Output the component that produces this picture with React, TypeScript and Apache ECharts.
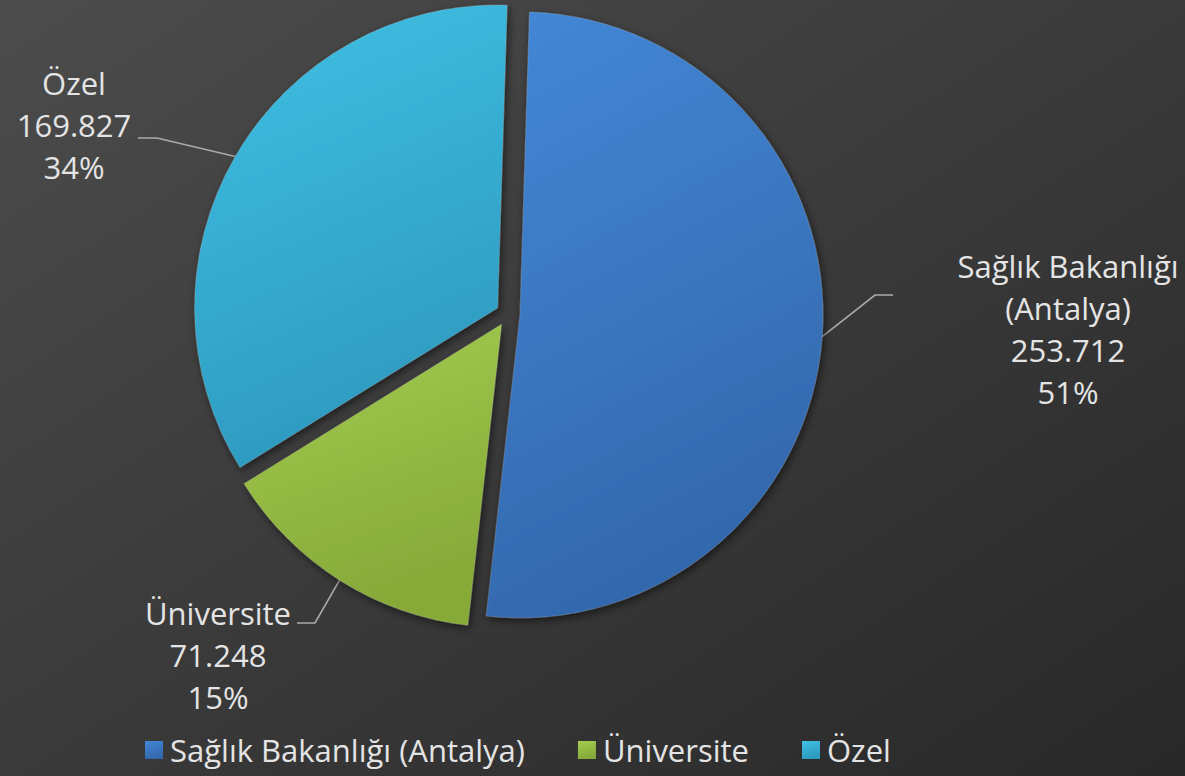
import React, { useEffect, useRef } from 'react';
import * as echarts from 'echarts';

// ---- data ----
const categories = ['Sağlık Bakanlığı (Antalya)', 'Üniversite', 'Özel'];
const values = [253712, 71248, 169827];
const percentLabels = ['51%', '15%', '34%'];

// ---- style / layout ----
const sliceColors = [
  ['#4388d7', '#3368ad'],
  ['#a4cd50', '#86a938'],
  ['#40c1e5', '#2e9ac0'],
];
const PIE_CX = 508;
const PIE_CY = 314;
const RADIUS = 303;
const EXPLODE = 12;
const START_DEG = 1.8; // clockwise from 12 o'clock
const TEXT_COLOR = '#e4e4e4';
const FONT = '"Open Sans", "Noto Sans", sans-serif';
const labelPlacement = [
  { x: 1068, y: 329, bend: [875, 295], end: [893, 295] },
  { x: 218, y: 655, bend: [315, 623], end: [297, 623] },
  { x: 74, y: 125, bend: [157, 138], end: [138, 138] },
];

const fmt = (n: number) => String(n).replace(/\B(?=(\d{3})+(?!\d))/g, '.');

const grad = (i: number) => ({
  type: 'linear',
  x: 0,
  y: 0,
  x2: 0.3,
  y2: 1,
  colorStops: [
    { offset: 0, color: sliceColors[i][0] },
    { offset: 1, color: sliceColors[i][1] },
  ],
});

export default function App() {
  const ref = useRef<HTMLDivElement>(null);
  useEffect(() => {
    if (!ref.current) return;
    const chart = echarts.init(ref.current, undefined, { renderer: 'svg' });
    const total = values.reduce((a, b) => a + b, 0);
    let cum = 0;
    const series = values.map((v, i) => {
      const mid = ((cum + v / 2) / total) * Math.PI * 2 + (START_DEG * Math.PI) / 180;
      cum += v;
      const dx = Math.sin(mid);
      const dy = -Math.cos(mid);
      const cx = PIE_CX + EXPLODE * dx;
      const cy = PIE_CY + EXPLODE * dy;
      const edge = [cx + RADIUS * dx, cy + RADIUS * dy];
      const place = labelPlacement[i];
      return {
        type: 'pie',
        name: categories[i],
        center: [cx, cy],
        radius: RADIUS,
        startAngle: 90 - START_DEG,
        clockwise: true,
        avoidLabelOverlap: false,
        silent: true,
        emphasis: { disabled: true },
        data: categories.map((name, j) => ({
          name,
          value: values[j],
          itemStyle:
            j === i
              ? {
                  color: grad(j),
                  borderColor: 'rgba(255,255,255,0.15)',
                  borderWidth: 1,
                  shadowBlur: 8,
                  shadowColor: 'rgba(0,0,0,0.55)',
                  shadowOffsetX: 2,
                  shadowOffsetY: 3,
                }
              : { color: 'rgba(0,0,0,0)', borderWidth: 0, shadowBlur: 0 },
          label: { show: j === i },
          labelLine: { show: j === i },
        })),
        label: {
          show: true,
          position: 'outside',
          color: TEXT_COLOR,
          fontFamily: FONT,
          fontSize: 31,
          lineHeight: 42,
          formatter: (p: any) =>
            `${p.name.replace(' (', '\n(')}\n${fmt(p.value)}\n${percentLabels[p.dataIndex]}`,
        },
        labelLine: {
          show: true,
          length: 10,
          length2: 10,
          lineStyle: { color: '#ababab', width: 1.6 },
        },
        labelLayout: () => ({
          x: place.x,
          y: place.y,
          align: 'center',
          verticalAlign: 'middle',
          labelLinePoints: [edge, place.bend, place.end],
        }),
      };
    });

    chart.setOption({
      animation: false,
      backgroundColor: {
        type: 'linear',
        x: 0,
        y: 0,
        x2: 1,
        y2: 1,
        colorStops: [
          { offset: 0, color: '#4c4c4c' },
          { offset: 1, color: '#282828' },
        ],
      },
      legend: {
        data: categories.map((name, i) => ({ name, itemStyle: { color: grad(i) } })),
        left: 145,
        top: 733,
        orient: 'horizontal',
        icon: 'rect',
        itemWidth: 18,
        itemHeight: 18,
        itemGap: 53,
        padding: 0,
        selectedMode: false,
        textStyle: {
          color: TEXT_COLOR,
          fontFamily: FONT,
          fontSize: 31,
          lineHeight: 34,
          padding: [0, 0, 0, 2],
        },
      },
      series,
    });
    return () => chart.dispose();
  }, []);
  return (
    <div
      ref={ref}
      style={{ position: 'fixed', left: 0, top: 0, width: 1185, height: 776 }}
    />
  );
}
